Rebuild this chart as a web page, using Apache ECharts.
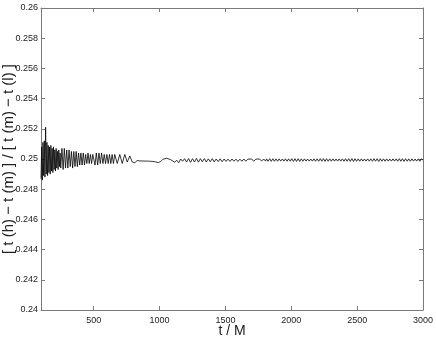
<!DOCTYPE html>
<html>
<head>
<meta charset="utf-8">
<script src="https://cdn.jsdelivr.net/npm/echarts@6/dist/echarts.min.js"></script>
<style>
  html, body { margin: 0; padding: 0; background: #fff; }
  #chart { width: 436px; height: 338px; }
</style>
</head>
<body>
<div id="chart"></div>
<script>
// early burst, t = 100..250 every 5
var segA = { t0: 100, dt: 5, vals: [
  0.2487, 0.2508, 0.2486, 0.2511, 0.2489, 0.2512, 0.2488, 0.2521, 0.2490, 0.2511,
  0.2489, 0.2509, 0.2491, 0.2508, 0.2490, 0.2509, 0.2492, 0.2507, 0.2491, 0.2508,
  0.2493, 0.2506, 0.2492, 0.2507, 0.2494, 0.2505, 0.2493, 0.2506, 0.2495, 0.2504,
  0.2494
]};
// t = 259..502 every 9
var segB = { t0: 259, dt: 9, vals: [
  0.2507, 0.2493, 0.2507, 0.2494, 0.2506, 0.2494, 0.2506, 0.2495, 0.2505, 0.2494,
  0.2505, 0.2495, 0.2505, 0.2495, 0.2504, 0.2496, 0.2504, 0.2496, 0.2504, 0.2496,
  0.2503, 0.2497, 0.2504, 0.2497, 0.2503, 0.2497, 0.2503
]};
// t = 510..660 every 10
var segC = { t0: 510, dt: 10, vals: [
  0.2496, 0.2504, 0.2496, 0.2504, 0.2497, 0.2504, 0.2497, 0.2503, 0.2497, 0.2503,
  0.2497, 0.2503, 0.2497, 0.2503, 0.2497, 0.2503
]};
// t = 679..812 every 19
var segD = { t0: 679, dt: 19, vals: [
  0.2497, 0.2503, 0.2497, 0.2503, 0.2498, 0.2502, 0.2498, 0.24975
]};
// slow wave, t = 830..1010 every 20
var segE = { t0: 830, dt: 20, vals: [
  0.24990, 0.24987, 0.24987, 0.24986, 0.24986, 0.24985, 0.24984, 0.24981, 0.24976, 0.24984
]};
// t = 1025..1805 every 15
var segF = { t0: 1025, dt: 15, vals: [
  0.24998, 0.24993, 0.25005, 0.25008, 0.24995, 0.25003, 0.24978, 0.24992, 0.24975, 0.25000,
  0.24985, 0.25002, 0.24980, 0.25003, 0.24978, 0.25002, 0.24980, 0.25004, 0.24979, 0.25002,
  0.24981, 0.25003, 0.24980, 0.25001, 0.24982, 0.25002, 0.24981, 0.25000, 0.24983, 0.25001,
  0.24982, 0.25000, 0.24984, 0.24999, 0.24984, 0.25000, 0.24985, 0.24999, 0.24984, 0.24999,
  0.24985, 0.25000, 0.24985, 0.24999, 0.24986, 0.25000, 0.24985, 0.24999, 0.24986, 0.25000,
  0.24986, 0.25000, 0.24986
]};
// tail, t = 1812..3000 every 12
var segG = { t0: 1812, dt: 12, vals: [
  0.25001, 0.24985, 0.25002, 0.24984, 0.25002, 0.24985, 0.25001, 0.24985, 0.25001, 0.24986,
  0.25000, 0.24986, 0.25001, 0.24985, 0.25001, 0.24985, 0.25002, 0.24984, 0.25002, 0.24984,
  0.25002, 0.24984, 0.25001, 0.24985, 0.25001, 0.24986, 0.25000, 0.24986, 0.25000, 0.24986,
  0.25001, 0.24985, 0.25001, 0.24985, 0.25002, 0.24985, 0.25002, 0.24984, 0.25002, 0.24985,
  0.25001, 0.24985, 0.25001, 0.24986, 0.25000, 0.24986, 0.25001, 0.24986, 0.25001, 0.24985,
  0.25002, 0.24985, 0.25002, 0.24984, 0.25003, 0.24984, 0.25002, 0.24985, 0.25001, 0.24985,
  0.25001, 0.24986, 0.25000, 0.24986, 0.25001, 0.24986, 0.25001, 0.24985, 0.25002, 0.24985,
  0.25002, 0.24984, 0.25002, 0.24985, 0.25001, 0.24985, 0.25001, 0.24986, 0.25000, 0.24986,
  0.25001, 0.24986, 0.25001, 0.24985, 0.25002, 0.24985, 0.25002, 0.24984, 0.25002, 0.24985,
  0.25001, 0.24985, 0.25001, 0.24986, 0.25000, 0.24986, 0.25001, 0.24985, 0.25001, 0.24993
]};

var xTicks = [500, 1000, 1500, 2000, 2500, 3000];
var yTicks = [0.24, 0.242, 0.244, 0.246, 0.248, 0.25, 0.252, 0.254, 0.256, 0.258, 0.26];

window.onload = function(){
  var chart = echarts.init(document.getElementById('chart'));

  var data = [];
  [segA, segB, segC, segD, segE, segF, segG].forEach(function(s){
    for (var i = 0; i < s.vals.length; i++) {
      data.push([s.t0 + i * s.dt, s.vals[i]]);
    }
  });

  var axisCol = '#7a7a7a';
  var txtCol = '#222';

  var xBase = {
    type: 'value', min: 100, max: 3000,
    axisLine: { show: true, lineStyle: { color: axisCol, width: 1 } },
    axisTick: { show: true, inside: true, length: 4, customValues: xTicks, lineStyle: { color: axisCol } },
    splitLine: { show: false }
  };
  var yBase = {
    type: 'value', min: 0.24, max: 0.26,
    axisLine: { show: true, lineStyle: { color: axisCol, width: 1 } },
    axisTick: { show: true, inside: true, length: 4, customValues: yTicks, lineStyle: { color: axisCol } },
    splitLine: { show: false }
  };

  var opt = {
    animation: false,
    grid: { left: 41, right: 13, top: 8, bottom: 28, containLabel: false, outerBoundsMode: 'none' },
    xAxis: [
      echarts.util.merge({
        position: 'bottom',
        name: 't / M', nameLocation: 'middle', nameGap: 14, nameMoveOverlap: false,
        nameTextStyle: { fontFamily: 'Liberation Sans', fontSize: 14, color: txtCol },
        axisLabel: {
          customValues: xTicks, fontFamily: 'Liberation Sans', fontSize: 9, color: txtCol, margin: 6,
          formatter: function(v){ return String(v); }
        }
      }, xBase, true),
      echarts.util.merge({ position: 'top', axisLabel: { show: false } }, xBase, true)
    ],
    yAxis: [
      echarts.util.merge({
        position: 'left',
        name: '[ t (h) \u2212 t (m) ] / [ t (m) \u2212 t (l) ]', nameLocation: 'middle', nameGap: 25, nameMoveOverlap: false,
        nameTextStyle: { fontFamily: 'Liberation Sans', fontSize: 15, color: txtCol },
        axisLabel: {
          customValues: yTicks, fontFamily: 'Liberation Sans', fontSize: 9, color: txtCol, margin: 3,
          formatter: function(v){ return String(Math.round(v * 1000) / 1000); }
        }
      }, yBase, true),
      echarts.util.merge({ position: 'right', axisLabel: { show: false } }, yBase, true)
    ],
    series: [{
      type: 'line',
      data: data,
      showSymbol: false,
      symbol: 'none',
      lineStyle: { color: '#000', width: 0.8 },
      silent: true
    }]
  };

  chart.setOption(opt);
};
</script>
</body>
</html>
